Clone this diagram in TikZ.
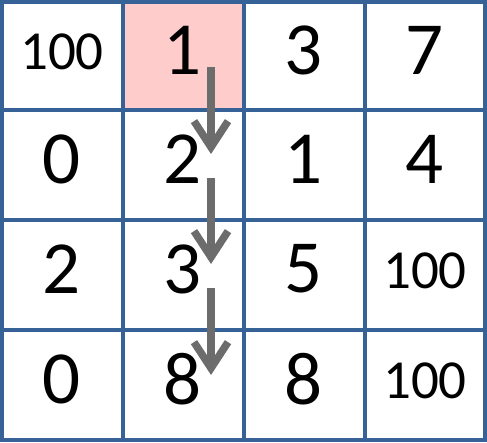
\documentclass[tikz,border=0pt]{standalone}
\usepackage{fontspec}
\setmainfont{Carlito}
\usetikzlibrary{arrows.meta}
\definecolor{gridblue}{RGB}{54,98,152}
\definecolor{cellpink}{RGB}{255,204,204}
\definecolor{arrowgray}{RGB}{108,108,108}
\begin{document}
\begin{tikzpicture}[x=1pt,y=-1pt,
  big/.style={font=\fontsize{75}{75}\selectfont, inner sep=0pt, text=black},
  small/.style={font=\fontsize{55}{55}\selectfont, inner sep=0pt, text=black},
  gridline/.style={draw=gridblue, line width=4pt},
  arr/.style={draw=arrowgray, line width=7.5pt, -{Straight Barb[length=26pt,width=34pt]}}]
\useasboundingbox (0,0) rectangle (487,443);
\fill[white] (0,0) rectangle (487,443);
\fill[cellpink] (122.5,2) rectangle (243.5,110);
\foreach \x in {122.5,243.5,364.5} \draw[gridline] (\x,2) -- (\x,440);
\foreach \y in {110,220,330} \draw[gridline] (2,\y) -- (485,\y);
\draw[gridline] (2,2) rectangle (485,440);
% row 1
\node[small] (c11) at (62,52) {100};
\node[big] (c12) at (183,50) {1};
\node[big] (c13) at (304,50) {3};
\node[big] (c14) at (425,50) {7};
% row 2
\node[big] (c21) at (62,159) {0};
\node[big] (c22) at (183,159) {2};
\node[big] (c23) at (304,159) {1};
\node[big] (c24) at (425,159) {4};
% row 3
\node[big] (c31) at (62,269) {2};
\node[big] (c32) at (183,269) {3};
\node[big] (c33) at (304,269) {5};
\node[small] (c34) at (425,271) {100};
% row 4
\node[big] (c41) at (62,379) {0};
\node[big] (c42) at (183,379) {8};
\node[big] (c43) at (304,379) {8};
\node[small] (c44) at (425,381) {100};
% arrows
\coordinate (a1s) at (211,67);
\coordinate (a1e) at (211,154);
\coordinate (a2s) at (211,178);
\coordinate (a2e) at (211,264);
\coordinate (a3s) at (211,288);
\coordinate (a3e) at (211,375);
\draw[arr] (a1s) -- (a1e);
\draw[arr] (a2s) -- (a2e);
\draw[arr] (a3s) -- (a3e);
\end{tikzpicture}
\end{document}
